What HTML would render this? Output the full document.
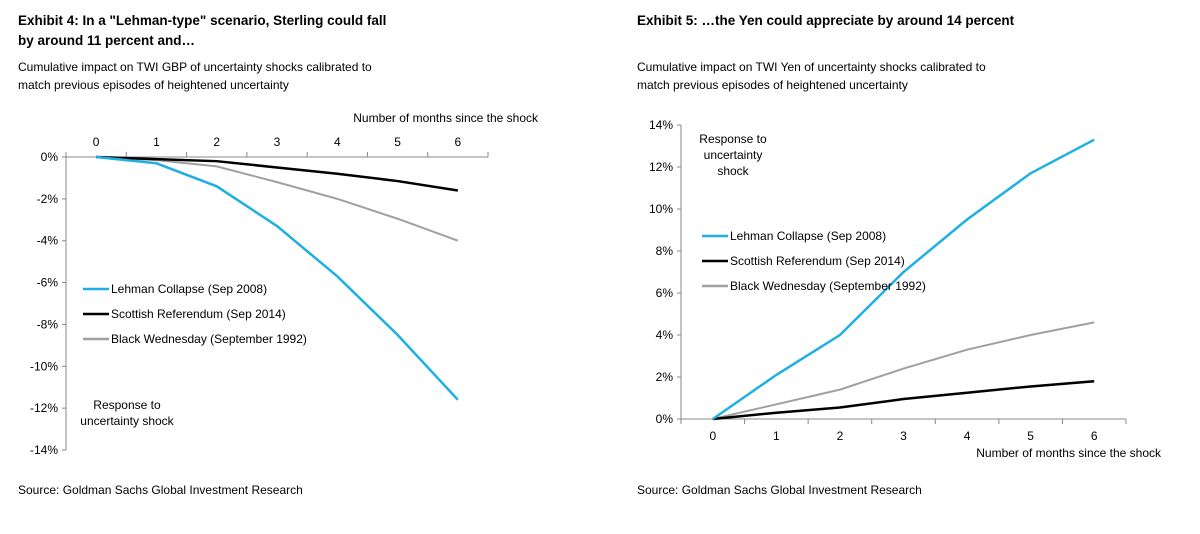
<!DOCTYPE html>
<html><head><meta charset="utf-8"><style>
body{margin:0;background:#fff;width:1200px;height:529px;overflow:hidden;font-family:"Liberation Sans",Arial,sans-serif;}
svg text{font-family:"Liberation Sans",Arial,sans-serif;}
</style></head><body>
<svg id="c" width="1200" height="529">
<text x="18" y="25" font-size="13.5" font-weight="bold">Exhibit 4: In a "Lehman-type" scenario, Sterling could fall</text>
<text x="18" y="45" font-size="13.5" font-weight="bold">by around 11 percent and…</text>
<text x="18" y="71" font-size="12">Cumulative impact on TWI GBP of uncertainty shocks calibrated to</text>
<text x="18" y="89" font-size="12">match previous episodes of heightened uncertainty</text>
<text x="18" y="494" font-size="12">Source:  Goldman Sachs Global Investment Research</text>
<text x="637" y="25" font-size="13.5" font-weight="bold">Exhibit 5: …the Yen could appreciate by around 14 percent</text>
<text x="637" y="71" font-size="12">Cumulative impact on TWI Yen of uncertainty shocks calibrated to</text>
<text x="637" y="89" font-size="12">match previous episodes of heightened uncertainty</text>
<text x="637" y="494" font-size="12">Source:  Goldman Sachs Global Investment Research</text>
<g id="left"></g><g id="right"></g>
</svg>
<script>
const months=[0,1,2,3,4,5,6];
const gbpLehman=[0,-0.3,-1.4,-3.3,-5.7,-8.5,-11.6];
const gbpScottish=[0,-0.1,-0.2,-0.5,-0.8,-1.15,-1.6];
const gbpBlack=[0,-0.15,-0.45,-1.2,-2.0,-2.95,-4.0];
const yenLehman=[0,2.1,4.0,7.0,9.5,11.7,13.3];
const yenScottish=[0,0.3,0.55,0.95,1.25,1.55,1.8];
const yenBlack=[0,0.7,1.4,2.4,3.3,4.0,4.6];
const gbpTicks=[0,-2,-4,-6,-8,-10,-12,-14];
const yenTicks=[0,2,4,6,8,10,12,14];
const NS="http://www.w3.org/2000/svg";
function mk(p,tag,a,txt){const e=document.createElementNS(NS,tag);for(const k in a)e.setAttribute(k,a[k]);if(txt!=null)e.textContent=txt;p.appendChild(e);return e;}
const colors={lehman:"#1fb0e3",scottish:"#000",black:"#a0a0a0"};
function chart(g,cfg){
  const x=i=>cfg.x0+(cfg.x1-cfg.x0)/7*(i+0.5);
  const y=v=>cfg.yZero+v*(cfg.yTop-cfg.yZero)/14;
  let e=mk(g,"line",{x1:cfg.x0,x2:cfg.x0,y1:y(cfg.yMin),y2:y(cfg.yMax),stroke:"#888"});
  
  
  cfg.ticks.forEach(t=>{
    mk(g,"line",{x1:cfg.x0-4,x2:cfg.x0,y1:y(t),y2:y(t),stroke:"#888"});
    const l=mk(g,"text",{x:cfg.x0-8,y:y(t)+4,"font-size":12,"text-anchor":"end"},t+"%");
    
    
  });
  e=mk(g,"line",{x1:cfg.x0,x2:cfg.x1,y1:y(0),y2:y(0),stroke:"#888"});
  
  
  for(let k=0;k<=7;k++)mk(g,"line",{x1:cfg.x0+(cfg.x1-cfg.x0)/7*k,x2:cfg.x0+(cfg.x1-cfg.x0)/7*k,y1:y(0),y2:y(0)+cfg.tickDir*5,stroke:"#888"});
  months.forEach((m,i)=>{
    const l=mk(g,"text",{x:x(i),y:cfg.xLabelY,"font-size":12,"text-anchor":"middle"},m);
    
    
  });
  cfg.series.forEach(s=>{
    const p=mk(g,"polyline",{points:s.v.map((v,i)=>x(i)+","+y(v)).join(" "),fill:"none",stroke:colors[s.k],"stroke-width":s.k=="black"?2:2.5});
    
    
  });
}
const L=document.getElementById("left"),R=document.getElementById("right");
chart(L,{x0:66,x1:488,yZero:157,yTop:157-293,yMax:0,yMin:-14,ticks:gbpTicks,tickDir:-1,xLabelY:146,
 series:[{k:"black",v:gbpBlack,name:"black-wednesday-line"},{k:"scottish",v:gbpScottish,name:"scottish-referendum-line"},{k:"lehman",v:gbpLehman,name:"lehman-collapse-line"}]});
chart(R,{x0:681,x1:1126,yZero:419,yTop:125,yMax:14,yMin:0,ticks:yenTicks,tickDir:1,xLabelY:440,
 series:[{k:"black",v:yenBlack,name:"black-wednesday-line"},{k:"scottish",v:yenScottish,name:"scottish-referendum-line"},{k:"lehman",v:yenLehman,name:"lehman-collapse-line"}]});
function legend(g,x,y0,dy){
  [["lehman","Lehman Collapse (Sep 2008)"],["scottish","Scottish Referendum (Sep 2014)"],["black","Black Wednesday (September 1992)"]].forEach((it,i)=>{
    const yy=y0+i*dy;
    mk(g,"line",{x1:x,x2:x+26,y1:yy,y2:yy,stroke:colors[it[0]],"stroke-width":2.5});
    const t=mk(g,"text",{x:x+28,y:yy+4,"font-size":12},it[1]);
    
    
  });
}
legend(L,83,289,25);
legend(R,702,236,25);
function multi(g,x,y,lines,anchor,name){lines.forEach((s,i)=>{const t=mk(g,"text",{x:x,y:y+i*16,"font-size":12,"text-anchor":anchor},s);});}
multi(L,127,409,["Response to","uncertainty shock"],"middle","y-axis-title");
multi(R,733,143,["Response to","uncertainty","shock"],"middle","y-axis-title");
multi(L,538,122,["Number of months since the shock"],"end","x-axis-title");
multi(R,1161,457,["Number of months since the shock"],"end","x-axis-title");
</script>
</body></html>
